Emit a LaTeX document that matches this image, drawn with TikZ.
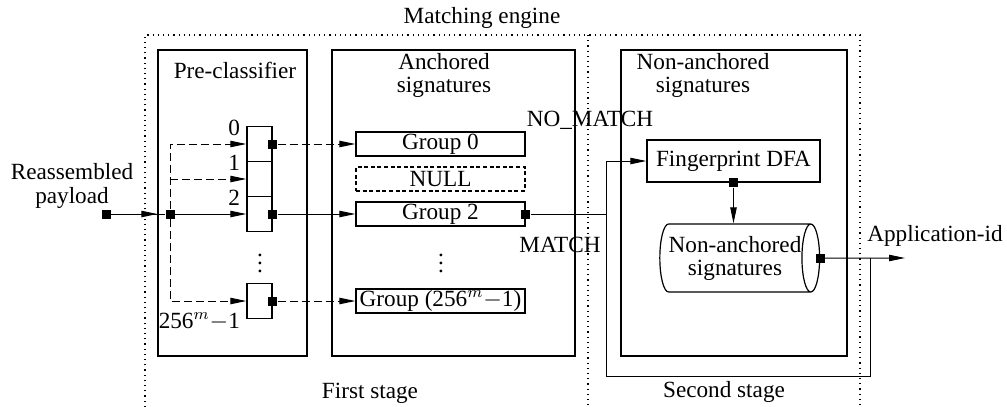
\documentclass[tikz,border=0pt]{standalone}
\usepackage{fontspec}
\setmainfont{Liberation Serif}
\usetikzlibrary{arrows.meta,shapes.geometric}
\begin{document}
\begin{tikzpicture}[x=0.5pt,y=-0.5pt,
  font=\fontsize{11.6}{11.5}\selectfont,
  blk/.style={draw,line width=0.7pt,inner sep=0pt},
  cell/.style={draw,line width=0.7pt,minimum width=12.5pt,minimum height=17.5pt,inner sep=0pt},
  grp/.style={draw,line width=0.6pt,minimum width=84.5pt,minimum height=12pt,inner sep=0pt},
  sq/.style={fill,minimum size=4.5pt,inner sep=0pt},
  arr/.style={-{Triangle[length=8pt,width=3.2pt]}},
  dsh/.style={dash pattern=on 4pt off 2pt},
  ln/.style={line width=0.5pt}]
\useasboundingbox (0,0) rectangle (1007,407);
% matching engine frame
\draw[dotted,line width=0.6pt] (145,407) |- (860,35) -- (860,407);
\draw[dotted,line width=0.6pt] (588,35) -- (588,407);
\node (eng) at (482,18) {Matching engine};
\node (st1) at (370,393) {First stage};
\node (st2) at (724,392) {Second stage};
% main blocks
\node[blk,minimum width=74.5pt,minimum height=153pt] (pre) at (232.5,203) {};
\node[blk,minimum width=121.5pt,minimum height=153pt] (anc) at (453.5,203) {};
\node[blk,minimum width=113pt,minimum height=153pt] (non) at (734,203) {};
\node (pret) at (235,70) {Pre-classifier};
\node[align=center] (anct) at (444,75) {Anchored\\signatures};
\node[align=center] (nont) at (703,75) {Non-anchored\\signatures};
% pre-classifier cells
\node[cell] (c0) at (259.5,144) {};
\node[cell] (c1) at (259.5,179) {};
\node[cell] (c2) at (259.5,214) {};
\node[cell] (c3) at (259.5,301) {};
\node[anchor=east,inner sep=3pt] (l0) at ([yshift=-1pt]c0.north west) {0};
\node[anchor=east,inner sep=3pt] (l1) at ([yshift=-1pt]c1.north west) {1};
\node[anchor=east,inner sep=3pt] (l2) at ([yshift=-1pt]c2.north west) {2};
\node[anchor=east,inner sep=3pt] (l3) at ([yshift=-1pt]c3.south west) {256$^{m}$$-$1};
\node (vd1) at (260,257) {$\vdots$};
% groups
\node[grp] (g0) at (440.5,144) {Group 0};
\node[grp,dash pattern=on 2pt off 1.3pt] (gn) at (440.5,179) {NULL};
\node[grp] (g2) at (440.5,214) {Group 2};
\node (vd2) at (441,257) {$\vdots$};
\node[grp] (g3) at (440.5,301) {Group (256$^{m}$$-$1)};
% second stage
\node[blk,minimum width=86.5pt,minimum height=21pt] (fp) at (733.5,161) {Fingerprint DFA};
\node[cylinder,draw,line width=0.6pt,aspect=0.4,minimum width=34pt,minimum height=79pt,
  align=center,inner sep=0pt] (cyl) at (735,258) {Non-anchored\\signatures};
% labels
\node (nm) at (590,120) {NO\_MATCH};
\node (mt) at (560,245) {MATCH};
\node (app) at (935,236) {Application-id};
% input
\node[sq] (in) at (106,214) {};
\node[align=center,font=\fontsize{11.6}{12}\selectfont] (inl) at (72,186) {Reassembled\\payload};
\node[sq] (jn) at (170,214) {};
\draw[ln] (in) -- (jn);
\draw[ln,arr] (in) -- (pre.west |- in);
\draw[ln,arr] (jn) -- (c2);
\draw[ln,dsh,arr] (jn) |- (c0);
\draw[ln,dsh,arr] (jn |- c1) -- (c1);
\draw[ln,dsh,arr] (jn) |- (c3);
% cells to groups
\node[sq] (m0) at (c0.east) {};
\node[sq] (m2) at (c2.east) {};
\node[sq] (m3) at (c3.east) {};
\draw[ln,dsh,arr] (m0) -- (g0);
\draw[ln,arr] (m2) -- (g2);
\draw[ln,dsh,arr] (m3) -- (g3);
% group 2 to fingerprint DFA
\node[sq] (mg) at (g2.east) {};
\coordinate (ret) at (606,376);
\draw[ln] (mg) -- (mg -| ret);
\draw[ln,arr] (ret) |- (fp.west);
\node[sq] (mf) at (fp.south) {};
\draw[ln,arr] (mf) -- (mf |- cyl.north);
% output
\node[sq] (mc) at (cyl.east) {};
\coordinate (out) at (905,258);
\coordinate (fb) at (870,258);
\draw[ln,arr] (mc) -- (out);
\draw[ln] (fb) |- (ret);
\end{tikzpicture}
\end{document}
